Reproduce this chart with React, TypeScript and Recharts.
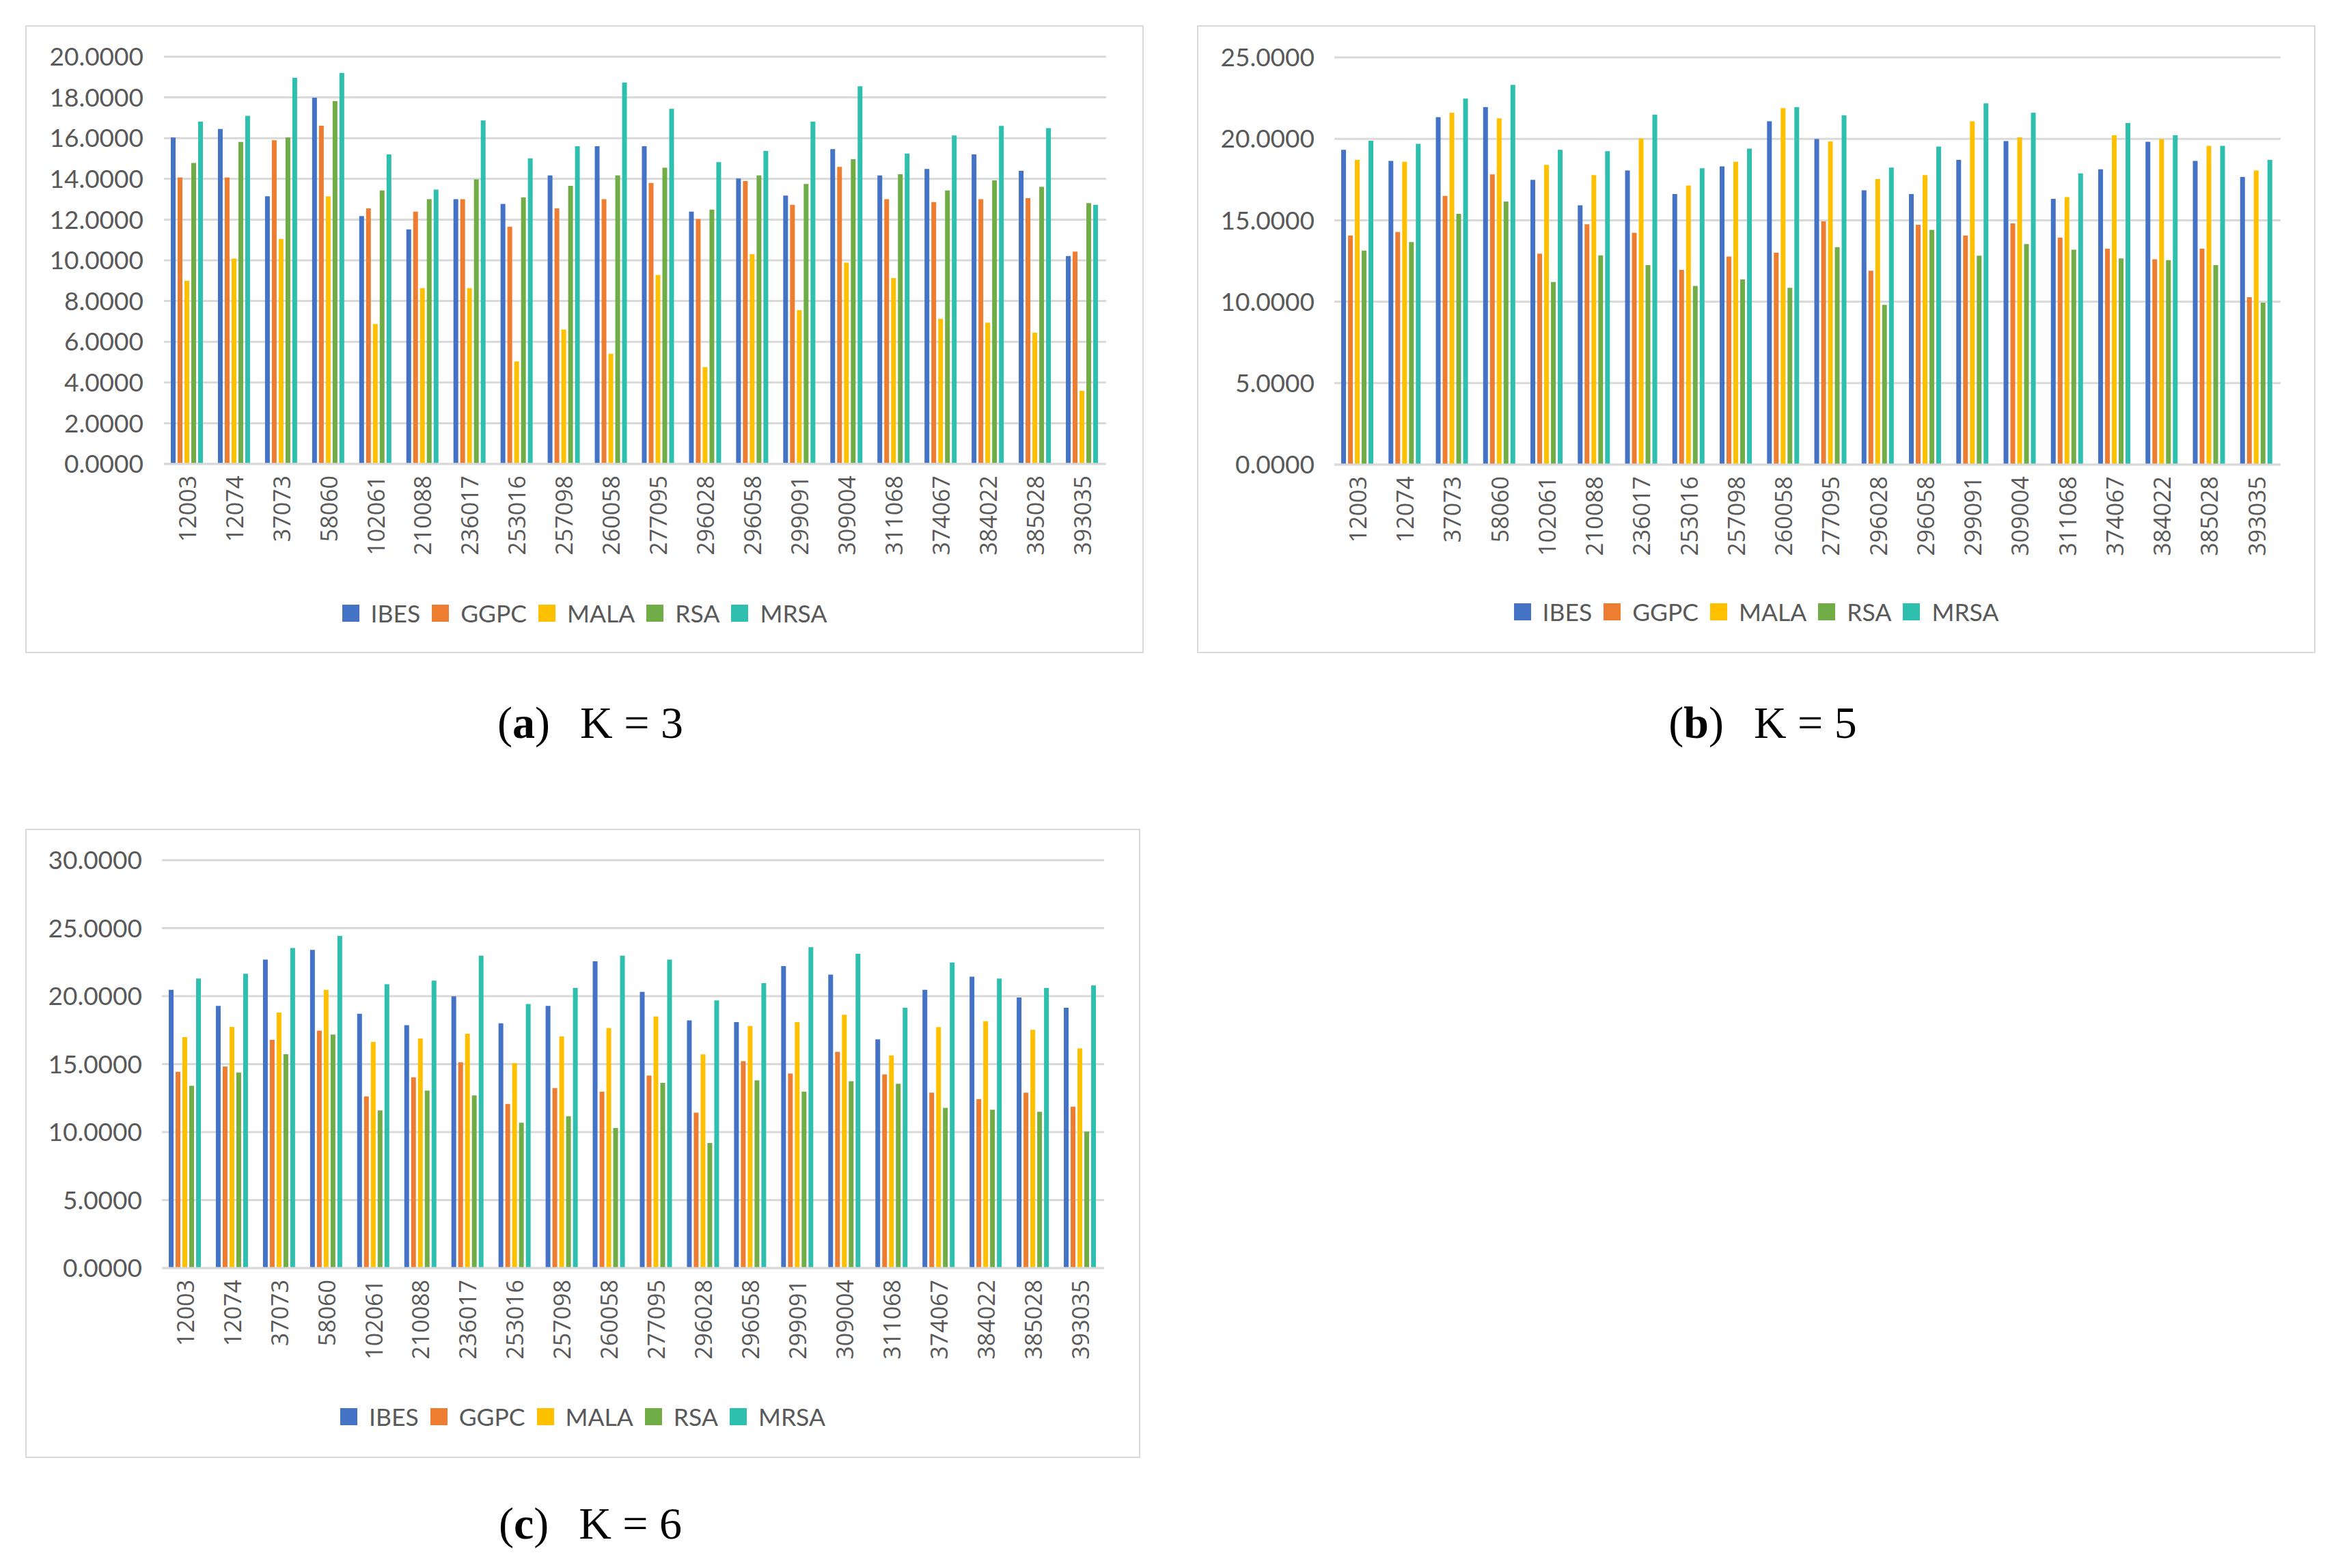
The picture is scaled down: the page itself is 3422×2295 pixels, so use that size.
import React from "react";
import { Bar, BarChart, CartesianGrid, Legend, XAxis, YAxis } from "recharts";

const categories = [
  "12003", "12074", "37073", "58060", "102061", "210088", "236017", "253016", "257098", "260058",
  "277095", "296028", "296058", "299091", "309004", "311068", "374067", "384022", "385028", "393035",
];

const seriesNames = ["IBES", "GGPC", "MALA", "RSA", "MRSA"];
const seriesColors = ["#4472C4", "#ED7D31", "#FFC000", "#70AD47", "#2FBFAE"];

// K = 3
const ibes3 = [16.03, 16.45, 13.15, 17.99, 12.17, 11.52, 13.0, 12.77, 14.17, 15.6, 15.6, 12.39, 14.02, 13.18, 15.46, 14.17, 14.49, 15.2, 14.4, 10.21];
const ggpc3 = [14.07, 14.07, 15.9, 16.61, 12.55, 12.39, 13.0, 11.65, 12.55, 13.0, 13.8, 12.03, 13.89, 12.73, 14.59, 13.0, 12.86, 13.0, 13.05, 10.43];
const mala3 = [8.99, 10.08, 11.05, 13.15, 6.87, 8.63, 8.63, 5.03, 6.6, 5.41, 9.28, 4.76, 10.3, 7.55, 9.88, 9.13, 7.13, 6.94, 6.44, 3.59];
const rsa3 = [14.78, 15.81, 16.03, 17.82, 13.43, 13.0, 13.98, 13.09, 13.66, 14.17, 14.55, 12.49, 14.17, 13.75, 14.97, 14.23, 13.43, 13.93, 13.61, 12.81];
const mrsa3 = [16.81, 17.1, 18.97, 19.2, 15.2, 13.47, 16.87, 15.01, 15.6, 18.73, 17.44, 14.82, 15.37, 16.81, 18.55, 15.24, 16.13, 16.6, 16.49, 12.73];

// K = 5
const ibes5 = [19.33, 18.64, 21.33, 21.95, 17.48, 15.92, 18.06, 16.61, 18.31, 21.08, 19.99, 16.84, 16.61, 18.71, 19.86, 16.32, 18.13, 19.82, 18.64, 17.66];
const ggpc5 = [14.06, 14.28, 16.5, 17.82, 12.95, 14.75, 14.23, 11.95, 12.77, 13.01, 14.93, 11.9, 14.72, 14.06, 14.81, 13.94, 13.25, 12.61, 13.25, 10.28];
const mala5 = [18.71, 18.59, 21.6, 21.26, 18.4, 17.77, 20.02, 17.13, 18.59, 21.89, 19.84, 17.53, 17.77, 21.08, 20.09, 16.42, 20.22, 19.99, 19.57, 18.06];
const rsa5 = [13.14, 13.66, 15.39, 16.15, 11.21, 12.85, 12.25, 10.97, 11.37, 10.85, 13.35, 9.81, 14.41, 12.83, 13.54, 13.19, 12.66, 12.55, 12.25, 9.94];
const mrsa5 = [19.88, 19.69, 22.47, 23.31, 19.33, 19.24, 21.49, 18.19, 19.4, 21.95, 21.44, 18.24, 19.53, 22.18, 21.6, 17.88, 20.97, 20.22, 19.57, 18.71];

// K = 6
const ibes6 = [20.47, 19.29, 22.69, 23.41, 18.7, 17.87, 19.99, 18.0, 19.29, 22.56, 20.31, 18.22, 18.09, 22.21, 21.58, 16.82, 20.47, 21.43, 19.9, 19.14];
const ggpc6 = [14.44, 14.82, 16.78, 17.46, 12.63, 14.03, 15.14, 12.07, 13.24, 12.98, 14.16, 11.43, 15.21, 14.31, 15.91, 14.25, 12.9, 12.42, 12.9, 11.87];
const mala6 = [16.98, 17.74, 18.79, 20.47, 16.63, 16.89, 17.24, 15.08, 17.04, 17.65, 18.5, 15.71, 17.8, 18.09, 18.63, 15.64, 17.72, 18.15, 17.52, 16.15];
const rsa6 = [13.4, 14.38, 15.73, 17.17, 11.59, 13.05, 12.7, 10.69, 11.17, 10.3, 13.62, 9.19, 13.81, 12.98, 13.75, 13.55, 11.78, 11.65, 11.5, 10.04];
const mrsa6 = [21.3, 21.65, 23.54, 24.44, 20.88, 21.14, 22.98, 19.42, 20.6, 22.98, 22.69, 19.68, 20.95, 23.61, 23.11, 19.14, 22.47, 21.3, 20.6, 20.79];

const yTicks3 = [0, 2, 4, 6, 8, 10, 12, 14, 16, 18, 20];
const yTicks5 = [0, 5, 10, 15, 20, 25];
const yTicks6 = [0, 5, 10, 15, 20, 25, 30];

const buildRows = (cols: number[][]) =>
  categories.map((name, i) => {
    const row: Record<string, string | number> = { name };
    seriesNames.forEach((s, j) => (row[s] = cols[j][i]));
    return row;
  });

const GREY = "#595959";
const GRID = "#d9d9d9";

const XTick = (props: any) => {
  const { x, y, payload } = props;
  return (
    <g transform={`translate(${x},${y})`}>
      <text
        transform="rotate(-90)"
        x={-9}
        dy="0.36em"
        textAnchor="end"
        fill={GREY}
        fontFamily="'Open Sans', sans-serif"
        fontSize={34}
      >
        {payload.value}
      </text>
    </g>
  );
};

const LegendBox = () => (
  <div
    style={{
      display: "flex",
      justifyContent: "center",
      alignItems: "center",
      height: 60,
      fontFamily: "Lato, sans-serif",
      fontSize: 35.5,
      color: GREY,
    }}
  >
    {seriesNames.map((s, i) => (
      <div key={s} style={{ display: "flex", alignItems: "center", marginRight: i < 4 ? 17 : 0 }}>
        <span style={{ display: "inline-block", width: 25, height: 25, background: seriesColors[i], marginRight: 17 }} />
        {s}
      </div>
    ))}
  </div>
);

type PanelProps = {
  left: number;
  top: number;
  width: number;
  height: number;
  rows: Record<string, string | number>[];
  ticks: number[];
  margin: { top: number; right: number; left: number; bottom: number };
  yWidth: number;
  yGap: number;
  xHeight: number;
};

function Panel({ left, top, width, height, rows, ticks, margin, yWidth, yGap, xHeight }: PanelProps) {
  const w = width - 4;
  const h = height - 4;
  return (
    <div
      style={{
        position: "absolute",
        left,
        top,
        width,
        height,
        border: `2px solid ${GRID}`,
        boxSizing: "border-box",
        background: "#fff",
      }}
    >
      <BarChart width={w} height={h} data={rows} margin={margin} barCategoryGap="14.5%" barGap={3}>
        <CartesianGrid vertical={false} stroke={GRID} strokeWidth={3} />
        <XAxis
          dataKey="name"
          interval={0}
          height={xHeight}
          tick={<XTick />}
          tickLine={false}
          axisLine={{ stroke: GRID, strokeWidth: 3 }}
        />
        <YAxis
          width={yWidth}
          domain={[0, ticks[ticks.length - 1]]}
          ticks={ticks}
          interval={0}
          axisLine={false}
          tickLine={false}
          tickSize={0}
          tickMargin={yGap}
          tickFormatter={(v: number) => v.toFixed(4)}
          tick={{ fill: GREY, fontSize: 37, fontFamily: "Lato, sans-serif" }}
        />
        <Legend
          verticalAlign="bottom"
          content={<LegendBox />}
          wrapperStyle={{ left: 0, width: w, height: 60 }}
        />
        {seriesNames.map((s, i) => (
          <Bar key={s} dataKey={s} fill={seriesColors[i]} isAnimationActive={false} />
        ))}
      </BarChart>
    </div>
  );
}

const Caption = ({ cx, top, letter, k }: { cx: number; top: number; letter: string; k: number }) => (
  <div
    style={{
      position: "absolute",
      left: cx - 300,
      width: 600,
      top,
      textAlign: "center",
      fontFamily: "'Liberation Serif', 'Times New Roman', serif",
      fontSize: 66,
      color: "#000",
      lineHeight: "74px",
      whiteSpace: "pre",
    }}
  >
    (<b>{letter}</b>)<span style={{ display: "inline-block", width: 44 }} />K = {k}
  </div>
);

export default function App() {
  const rows3 = buildRows([ibes3, ggpc3, mala3, rsa3, mrsa3]);
  const rows5 = buildRows([ibes5, ggpc5, mala5, rsa5, mrsa5]);
  const rows6 = buildRows([ibes6, ggpc6, mala6, rsa6, mrsa6]);
  return (
    <div style={{ position: "absolute", left: 0, top: 0, width: 3422, height: 2295, background: "#fff" }}>
      <Panel
        left={37}
        top={37}
        width={1637}
        height={919}
        rows={rows3}
        ticks={yTicks3}
        margin={{ top: 44, right: 53, left: 0, bottom: 27 }}
        yWidth={201}
        yGap={30}
        xHeight={188}
      />
      <Panel
        left={1752}
        top={37}
        width={1637}
        height={919}
        rows={rows5}
        ticks={yTicks5}
        margin={{ top: 45, right: 49, left: 0, bottom: 29 }}
        yWidth={199}
        yGap={29}
        xHeight={185}
      />
      <Panel
        left={37}
        top={1213}
        width={1632}
        height={921}
        rows={rows6}
        ticks={yTicks6}
        margin={{ top: 44, right: 51, left: 0, bottom: 29 }}
        yWidth={198}
        yGap={29}
        xHeight={187}
      />
      <Caption cx={864} top={1021} letter="a" k={3} />
      <Caption cx={2580} top={1021} letter="b" k={5} />
      <Caption cx={864} top={2193} letter="c" k={6} />
    </div>
  );
}
